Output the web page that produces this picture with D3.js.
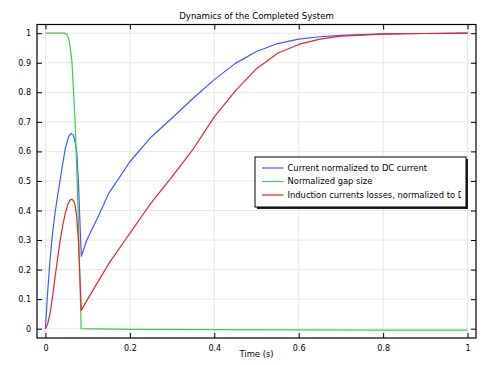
<!DOCTYPE html>
<html>
<head>
<meta charset="utf-8">
<script src="https://cdn.jsdelivr.net/npm/d3@7"></script>
<style>
  body { margin: 0; background: #fff; }
  text { font-family: "DejaVu Sans", sans-serif; fill: #000; }
</style>
</head>
<body>
<div id="chart"></div>
<script>

// data
var timeCurrent = [0, 0.005, 0.011, 0.017, 0.023, 0.03, 0.035, 0.04, 0.047, 0.055, 0.061, 0.066, 0.07, 0.074, 0.078, 0.082, 0.085,
                   0.098, 0.125, 0.15, 0.2, 0.25, 0.3, 0.35, 0.4, 0.45, 0.5, 0.55, 0.6, 0.65, 0.7, 0.8, 0.9, 1.0];
var currentVals = [0, 0.12, 0.235, 0.325, 0.395, 0.46, 0.505, 0.55, 0.61, 0.65, 0.661, 0.655, 0.635, 0.6, 0.5, 0.35, 0.245,
                   0.30, 0.38, 0.458, 0.565, 0.648, 0.713, 0.78, 0.843, 0.898, 0.938, 0.965, 0.98, 0.988, 0.993, 0.998, 0.999, 1.0];

var timeGap = [0, 0.045, 0.05, 0.054, 0.058, 0.0625, 0.066, 0.07, 0.074, 0.078, 0.082, 0.0845, 0.2, 0.4, 0.6, 0.8, 1.0];
var gapVals = [1, 1, 0.997, 0.988, 0.959, 0.909, 0.818, 0.706, 0.55, 0.36, 0.15, 0, -0.002, -0.003, -0.004, -0.005, -0.005];

var timeLoss = [0, 0.005, 0.011, 0.017, 0.023, 0.029, 0.035, 0.041, 0.047, 0.053, 0.058, 0.0625, 0.067, 0.07, 0.074, 0.078, 0.082, 0.085,
                0.1, 0.13, 0.15, 0.2, 0.25, 0.3, 0.35, 0.4, 0.45, 0.5, 0.55, 0.6, 0.65, 0.7, 0.8, 0.9, 1.0];
var lossVals = [0, 0.015, 0.052, 0.11, 0.176, 0.24, 0.3, 0.35, 0.39, 0.42, 0.435, 0.438, 0.432, 0.42, 0.38, 0.30, 0.16, 0.062,
                0.10, 0.172, 0.22, 0.323, 0.425, 0.515, 0.608, 0.717, 0.805, 0.88, 0.932, 0.962, 0.98, 0.99, 0.997, 0.999, 1.0];

var xTicks = [0, 0.2, 0.4, 0.6, 0.8, 1];
var yTicks = [0, 0.1, 0.2, 0.3, 0.4, 0.5, 0.6, 0.7, 0.8, 0.9, 1];

var seriesNames = ["Current normalized to DC current", "Normalized gap size", "Induction currents losses, normalized to DC losses"];
var seriesColors = ["#3a5cff", "#3fca50", "#e3262a"];

// setting the dimensions and margins of the chart
var margin = {top: 24.5, right: 20, bottom: 27, left: 37},
    width = 496 - margin.left - margin.right,
    height = 365 - margin.top - margin.bottom;

var svg = d3.select("#chart").append("svg")
    .attr("width", 496)
    .attr("height", 365)
  .append("g")
    .attr("transform", "translate(" + margin.left + "," + margin.top + ")");

// scales
var x = d3.scaleLinear().domain([-0.02, 1.02]).range([0, width]);
var y = d3.scaleLinear().domain([-0.0315, 1.0295]).range([height, 0]);

// grid lines
svg.append("g")
    .selectAll("line")
    .data(xTicks)
    .enter().append("line")
    .attr("x1", function(d) { return x(d); })
    .attr("x2", function(d) { return x(d); })
    .attr("y1", 0)
    .attr("y2", height)
    .attr("stroke", "#e8e8e8");
svg.append("g")
    .selectAll("line")
    .data(yTicks)
    .enter().append("line")
    .attr("x1", 0)
    .attr("x2", width)
    .attr("y1", function(d) { return y(d); })
    .attr("y2", function(d) { return y(d); })
    .attr("stroke", "#e8e8e8");

// axes, ticks pointing inwards
function styleAxis(g) {
  g.select(".domain").remove();
  g.selectAll("line").attr("stroke", "#000");
  g.selectAll("text").style("font-size", "8px").style("font-family", "DejaVu Sans");
}
svg.append("g")
    .attr("transform", "translate(0," + height + ")")
    .call(d3.axisBottom(x).tickValues(xTicks).tickFormat(d3.format("~g")).tickSizeInner(-5).tickPadding(7.5))
    .call(styleAxis);
svg.append("g")
    .call(d3.axisTop(x).tickValues(xTicks).tickFormat("").tickSizeInner(-5))
    .call(styleAxis);
svg.append("g")
    .call(d3.axisLeft(y).tickValues(yTicks).tickFormat(d3.format("~g")).tickSizeInner(-5).tickPadding(6))
    .call(styleAxis);
svg.append("g")
    .attr("transform", "translate(" + width + ",0)")
    .call(d3.axisRight(y).tickValues(yTicks).tickFormat("").tickSizeInner(-5))
    .call(styleAxis);

// frame
svg.append("rect")
    .attr("width", width)
    .attr("height", height)
    .attr("fill", "none")
    .attr("stroke", "#000")
    .attr("stroke-width", 1.2);

// lines (piecewise linear, like the solver output)
var series = [
  d3.zip(timeCurrent, currentVals),
  d3.zip(timeGap, gapVals),
  d3.zip(timeLoss, lossVals)
];
var line = d3.line()
    .x(function(d) { return x(d[0]); })
    .y(function(d) { return y(d[1]); });

svg.append("g")
    .selectAll("path")
    .data(series)
    .enter().append("path")
    .attr("d", line)
    .attr("fill", "none")
    .attr("stroke", function(d, i) { return seriesColors[i]; })
    .attr("stroke-width", 1.2)
    .attr("stroke-linejoin", "round");

// title
svg.append("text")
    .attr("x", width / 2)
    .attr("y", -5.5)
    .attr("text-anchor", "middle")
    .style("font-size", "8.6px")
    .text("Dynamics of the Completed System");

// x axis label
svg.append("text")
    .attr("x", width / 2)
    .attr("y", height + 19)
    .attr("text-anchor", "middle")
    .style("font-size", "8.4px")
    .text("Time (s)");

// legend (the long entry is clipped by the box, as in the original)
var lx = 218, ly = 132.5, lw = 211, lh = 50;
var legend = svg.append("g").attr("transform", "translate(" + lx + "," + ly + ")");
legend.append("rect")
    .attr("x", 2).attr("y", 2)
    .attr("width", lw).attr("height", lh)
    .attr("fill", "#222");
legend.append("rect")
    .attr("width", lw).attr("height", lh)
    .attr("fill", "#fff")
    .attr("stroke", "#000");
svg.append("clipPath")
    .attr("id", "legendClip")
  .append("rect")
    .attr("width", lw - 5).attr("height", lh);
var rows = legend.append("g")
    .attr("clip-path", "url(#legendClip)")
    .selectAll("g")
    .data(seriesNames)
    .enter().append("g")
    .attr("transform", function(d, i) { return "translate(0," + (11 + i * 13.5) + ")"; });
rows.append("line")
    .attr("x1", 7).attr("x2", 28.5)
    .attr("stroke", function(d, i) { return seriesColors[i]; })
    .attr("stroke-width", 1.2);
rows.append("text")
    .attr("x", 32.5)
    .attr("dy", "0.35em")
    .style("font-size", "8.4px")
    .text(function(d) { return d; });

</script>
</body>
</html>
